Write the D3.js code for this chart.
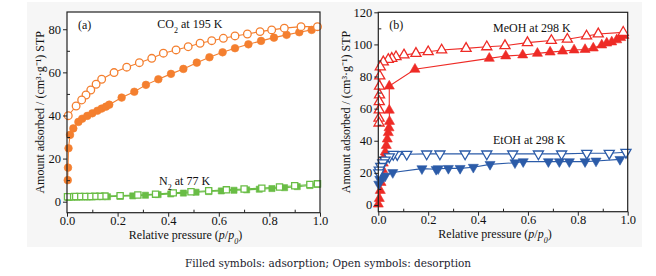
<!DOCTYPE html>
<html>
<head>
<meta charset="utf-8">
<script src="https://cdn.jsdelivr.net/npm/d3@7"></script>
<style>
  body { margin: 0; background: #fff; }
  svg { display: block; font-family: "Liberation Serif", "Times New Roman", serif; }
</style>
</head>
<body>
<div id="chart"></div>
<script>
const WIDTH = 656;
const HEIGHT = 276;

// ---- data (p/p0, amount) ----
const co2Ads = [[0.003,10],[0.004,15.8],[0.006,24.8],[0.012,31],[0.025,34],[0.045,37],[0.06,38.5],[0.08,39.8],[0.1,41],[0.12,42.2],[0.137,43.2],[0.154,44.1],[0.167,45],[0.216,48.3],[0.266,51],[0.312,54.2],[0.361,56.8],[0.411,59.3],[0.46,61.6],[0.513,64.5],[0.563,67],[0.615,69.3],[0.664,71.2],[0.717,73],[0.767,74.6],[0.818,76.1],[0.868,77.4],[0.918,78.6],[0.967,79.7]];
const co2Des = [[0.99,81.2],[0.925,81.2],[0.859,80.5],[0.809,79.7],[0.763,78.9],[0.713,77.8],[0.664,76.9],[0.618,75.8],[0.572,74.7],[0.526,73.5],[0.479,71.9],[0.431,70.4],[0.381,68.9],[0.335,66.5],[0.286,64.5],[0.236,62.4],[0.186,59.9],[0.137,56.8],[0.115,54.5],[0.094,51.8],[0.075,49.5],[0.058,47.2],[0.036,44.4],[0.005,39.9]];
const n2Ads = [[0.005,2.0],[0.02,2.1],[0.04,2.1],[0.06,2.2],[0.08,2.2],[0.1,2.2],[0.12,2.3],[0.14,2.3],[0.16,2.3],[0.21,2.5],[0.26,2.7],[0.31,3.0],[0.36,3.3],[0.41,3.6],[0.46,4.0],[0.51,4.4],[0.56,4.7],[0.61,5.0],[0.66,5.3],[0.71,5.5],[0.76,5.8],[0.81,6.1],[0.86,6.5],[0.91,7.0],[0.96,7.5],[0.99,8.0]];
const n2Des = [[0.99,8.3],[0.96,8.0],[0.9,7.4],[0.84,6.8],[0.77,6.3],[0.7,5.9],[0.63,5.5],[0.56,5.1],[0.49,4.6],[0.42,4.1],[0.35,3.5],[0.28,3.1],[0.21,2.8],[0.15,2.6],[0.13,2.5],[0.11,2.5],[0.09,2.4],[0.07,2.4],[0.05,2.4],[0.03,2.4],[0.01,2.3],[0.002,2.3]];

const meohAds = [[0,0.5],[0.004,4],[0.008,9],[0.011,14],[0.014,19],[0.017,22],[0.02,26],[0.024,30],[0.028,33],[0.032,37],[0.036,41],[0.04,45],[0.043,48],[0.045,52],[0.044,59],[0.044,74],[0.147,84.5],[0.445,91.3],[0.511,92.8],[0.579,93.4],[0.638,94.4],[0.689,95.2],[0.739,95.8],[0.785,96.5],[0.829,96.8],[0.862,97.7],[0.896,99.6],[0.916,100.8],[0.936,101.5],[0.956,102.8],[0.972,104.2],[0.985,105.5]];
const meohDes = [[0.982,107.5],[0.882,106.5],[0.835,105.2],[0.758,103.2],[0.694,102.4],[0.598,101.1],[0.508,99.2],[0.435,98.5],[0.352,97.5],[0.254,96.5],[0.2,95.4],[0.151,94.4],[0.103,93.4],[0.071,92.3],[0.054,91.3],[0.04,90.6],[0.02,89.1],[0.008,86],[0.006,80.3],[0.005,74],[0.005,68.5],[0.004,64.3],[0.004,59.2],[0.003,54],[0.003,51]];
const etohAds = [[0.002,13],[0.006,16],[0.01,17.5],[0.02,17.7],[0.027,18],[0.058,20.2],[0.175,22.6],[0.232,22.2],[0.24,22.6],[0.281,22.8],[0.328,22.8],[0.381,23.5],[0.448,25.3],[0.548,26.3],[0.581,27],[0.682,27],[0.726,27],[0.766,27],[0.829,27],[0.873,27.4],[0.969,28.4]];
const etohDes = [[0.993,32.8],[0.926,32.2],[0.836,32.2],[0.735,31.8],[0.642,31.8],[0.539,31.8],[0.435,31.8],[0.348,31.8],[0.247,31.8],[0.194,31.8],[0.114,31.6],[0.076,31.4],[0.06,31.5],[0.044,30],[0.027,28],[0.018,26.3],[0.01,24],[0.004,21.8],[0.002,20]];

const xTicks = [0, 0.2, 0.4, 0.6, 0.8, 1.0];
const xMinor = [0.1, 0.3, 0.5, 0.7, 0.9];
const yTicksA = [0, 20, 40, 60, 80];
const yMinorA = [10, 30, 50, 70];
const yTicksB = [0, 20, 40, 60, 80, 100, 120];
const yMinorB = [10, 30, 50, 70, 90, 110];

const ORANGE = "#f47f2f";
const GREEN = "#69bd45";
const RED = "#ee2b26";
const BLUE = "#2b5ba8";

let svg = d3.select("#chart").append("svg")
  .attr("width", WIDTH).attr("height", HEIGHT);

svg.append("rect")
  .attr("x", 27).attr("y", 2).attr("width", 615).attr("height", 245)
  .style("fill", "#f6f6f6");

function drawPanel(cfg) {
  const x = d3.scaleLinear().domain([0, 1]).range([cfg.left, cfg.right]);
  const y = d3.scaleLinear().domain(cfg.yDomain).range([cfg.bottom, cfg.top]);
  const g = svg.append("g");

  g.append("rect")
    .attr("x", cfg.left).attr("y", cfg.top)
    .attr("width", cfg.right - cfg.left).attr("height", cfg.bottom - cfg.top)
    .style("fill", "#fff");

  const line = d3.line().x((d) => x(d[0])).y((d) => y(d[1]));

  cfg.series.forEach((s) => {
    g.append("path")
      .attr("d", line(s.data))
      .style("fill", "none")
      .style("stroke", s.color)
      .style("stroke-width", 1.1);
  });

  cfg.series.forEach((s) => {
    g.append("g").selectAll("path")
      .data(s.data).enter().append("path")
      .attr("transform", (d) => `translate(${x(d[0])},${y(d[1])})` + (s.shape === "down" ? " rotate(180)" : ""))
      .attr("d", (d) => {
        if (s.shape === "circle") return d3.symbol(d3.symbolCircle, 46)();
        if (s.shape === "square") return d3.symbol(d3.symbolSquare, 38)();
        return d3.symbol(d3.symbolTriangle, 44)();
      })
      .style("fill", s.open ? "#fff" : s.color)
      .style("stroke", s.color)
      .style("stroke-width", s.open ? 1.3 : 0.6);
  });

  // axes
  g.append("g")
    .attr("transform", `translate(0,${cfg.bottom})`)
    .call(d3.axisBottom(x).tickValues(xTicks).tickSize(4).tickPadding(-1).tickFormat(d3.format(".1f")));
  g.append("g")
    .attr("transform", `translate(0,${cfg.bottom})`)
    .call(d3.axisBottom(x).tickValues(xMinor).tickSize(-3).tickFormat(""))
    .call((a) => a.select(".domain").remove());
  g.append("g")
    .attr("transform", `translate(${cfg.left},0)`)
    .call(d3.axisLeft(y).tickValues(cfg.yTicks).tickSize(4).tickPadding(2));
  g.append("g")
    .attr("transform", `translate(${cfg.left},0)`)
    .call(d3.axisLeft(y).tickValues(cfg.yMinor).tickSize(-3).tickFormat(""))
    .call((a) => a.select(".domain").remove());

  g.selectAll(".tick text")
    .style("font-family", "Liberation Serif, serif")
    .style("font-size", "12.5px")
    .style("fill", "#111");
  g.selectAll(".tick line").style("stroke", "#222");
  g.selectAll(".domain").remove();

  g.append("rect")
    .attr("x", cfg.left).attr("y", cfg.top)
    .attr("width", cfg.right - cfg.left).attr("height", cfg.bottom - cfg.top)
    .style("fill", "none")
    .style("stroke", "#222")
    .style("stroke-width", 1.2);

  // axis titles
  const xt = g.append("text")
    .attr("x", (cfg.left + cfg.right) / 2 - 8)
    .attr("y", cfg.bottom + 26.5)
    .style("text-anchor", "middle")
    .style("font-size", "12px")
    .style("fill", "#111");
  xt.append("tspan").text("Relative pressure (");
  xt.append("tspan").style("font-style", "italic").text("p");
  xt.append("tspan").text("/");
  xt.append("tspan").style("font-style", "italic").text("p");
  xt.append("tspan").attr("baseline-shift", "sub").style("font-size", "8px").style("font-style", "italic").text("0");
  xt.append("tspan").text(")");

  g.append("text")
    .attr("transform", `translate(${cfg.titleX},${(cfg.top + cfg.bottom) / 2}) rotate(-90)`)
    .style("text-anchor", "middle")
    .style("font-size", "12px")
    .style("fill", "#111")
    .text("Amount adsorbed / (cm\u00B3\u00B7g\u207B\u00B9) STP");

  g.append("text")
    .attr("x", cfg.left + 11).attr("y", cfg.top + 17)
    .style("font-size", "12px").style("fill", "#111")
    .text(cfg.tag);

  cfg.labels.forEach((l) => {
    const t = g.append("text")
      .attr("x", x(l.p)).attr("y", y(l.v))
      .style("font-size", "12px").style("fill", "#111");
    t.append("tspan").text(l.main);
    if (l.sub) {
      t.append("tspan").attr("baseline-shift", "sub").style("font-size", "8px").text(l.sub);
      t.append("tspan").text(l.rest);
    }
  });
}

drawPanel({
  left: 67, right: 320, top: 12, bottom: 212.7,
  yDomain: [-5.1, 88], yTicks: yTicksA, yMinor: yMinorA,
  titleX: 44, tag: "(a)",
  series: [
    { data: co2Ads, color: ORANGE, shape: "circle", open: false },
    { data: co2Des, color: ORANGE, shape: "circle", open: true },
    { data: n2Ads, color: GREEN, shape: "square", open: false },
    { data: n2Des, color: GREEN, shape: "square", open: true },
  ],
  labels: [
    { p: 0.357, v: 80.5, main: "CO", sub: "2", rest: " at 195 K" },
    { p: 0.364, v: 7.8, main: "N", sub: "2", rest: " at 77 K" },
  ],
});

drawPanel({
  left: 378.3, right: 627.7, top: 12.3, bottom: 211.7,
  yDomain: [-4.2, 120], yTicks: yTicksB, yMinor: yMinorB,
  titleX: 350, tag: "(b)",
  series: [
    { data: meohAds, color: RED, shape: "up", open: false },
    { data: meohDes, color: RED, shape: "up", open: true },
    { data: etohAds, color: BLUE, shape: "down", open: false },
    { data: etohDes, color: BLUE, shape: "down", open: true },
  ],
  labels: [
    { p: 0.46, v: 108, main: "MeOH at 298 K" },
    { p: 0.46, v: 38, main: "EtOH at 298 K" },
  ],
});

svg.append("text")
  .attr("x", 328).attr("y", 267)
  .style("text-anchor", "middle")
  .style("font-family", "DejaVu Serif, serif")
  .style("font-size", "10.5px")
  .style("fill", "#1c1c2e")
  .text("Filled symbols: adsorption; Open symbols: desorption");
</script>
</body>
</html>
